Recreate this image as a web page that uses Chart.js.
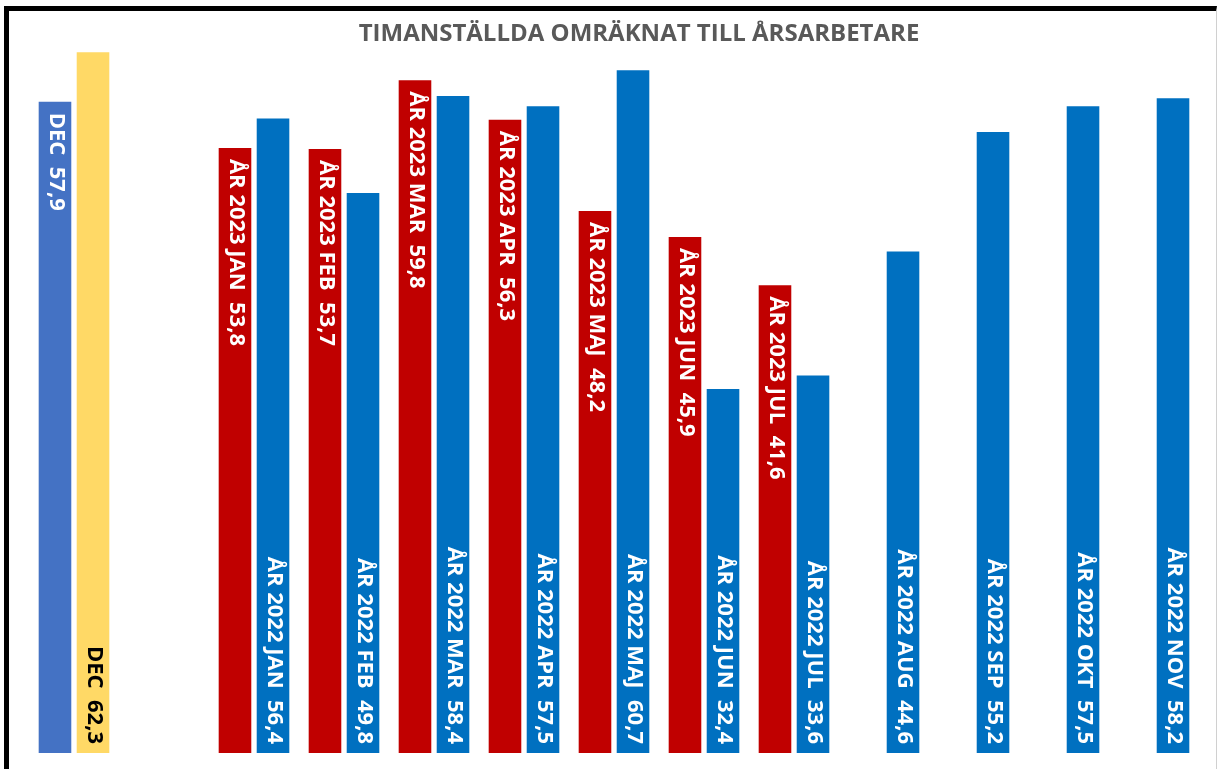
<!DOCTYPE html>
<html>
<head>
<meta charset="utf-8">
<script src="https://cdn.jsdelivr.net/npm/chart.js@4/dist/chart.umd.min.js"></script>
<style>
  html, body { margin: 0; padding: 0; background: #fff; }
  #frame {
    position: absolute; left: 4px; top: 6px;
    width: 1213px; height: 763px;
    box-sizing: border-box;
    border-top: 5px solid #000;
    border-left: 5px solid #000;
    border-right: 1px solid #d0d0d0;
  }
</style>
</head>
<body>
<div id="frame"><canvas id="myChart"></canvas></div>
<script>
const categories = ["DEC", "", "JAN", "FEB", "MAR", "APR", "MAJ", "JUN", "JUL", "AUG", "SEP", "OKT", "NOV"];
const values2023 = [57.9, null, 53.8, 53.7, 59.8, 56.3, 48.2, 45.9, 41.6, null, null, null, null];
const values2022 = [62.3, null, 56.4, 49.8, 58.4, 57.5, 60.7, 32.4, 33.6, 44.6, 55.2, 57.5, 58.2];
const yearTags = ["2023", "2022"];

const fmt = (v) => v.toFixed(1).replace(".", ",");
const labelFor = (ds, i) => {
    const v = ds === 0 ? values2023[i] : values2022[i];
    if (i === 0) return "DEC  " + fmt(v);
    return "ÅR " + yearTags[ds] + " " + categories[i] + "  " + fmt(v);
};

// labels inside the bars, written top to bottom
const barLabels = {
    id: "barLabels",
    afterLayout(chart) {
        // title sits a little right of the plot centre in the original
        chart.titleBlock.left += 25;
        chart.titleBlock.right += 25;
    },
    afterDatasetsDraw(chart) {
        const ctx = chart.ctx;
        ctx.save();
        ctx.font = "bold 22px 'Open Sans'";
        ctx.textBaseline = "middle";
        chart.data.datasets.forEach((ds, di) => {
            const meta = chart.getDatasetMeta(di);
            meta.data.forEach((bar, i) => {
                if (ds.data[i] == null) return;
                ctx.save();
                ctx.fillStyle = di === 1 && i === 0 ? "#000" : "#fff";
                if (di === 0) {
                    ctx.translate(bar.x + 1, bar.y + 12);
                    ctx.rotate(Math.PI / 2);
                    ctx.textAlign = "left";
                } else {
                    ctx.translate(bar.x + 1, bar.base - 9);
                    ctx.rotate(Math.PI / 2);
                    ctx.textAlign = "right";
                }
                ctx.fillText(labelFor(di, i), 0, 0);
                ctx.restore();
            });
        });
        ctx.restore();
    }
};

new Chart(document.getElementById("myChart"), {
    type: "bar",
    data: {
        labels: categories,
        datasets: [
            {
                label: "2023",
                data: values2023,
                backgroundColor: values2023.map((v, i) => i === 0 ? "#4472C4" : "#C00000"),
                borderColor: "rgba(255,255,255,0.45)",
                borderWidth: 1,
                categoryPercentage: 0.845,
                barPercentage: 0.91
            },
            {
                label: "2022",
                data: values2022,
                backgroundColor: values2022.map((v, i) => i === 0 ? "#FFD966" : "#0070C0"),
                borderColor: "rgba(255,255,255,0.45)",
                borderWidth: 1,
                categoryPercentage: 0.845,
                barPercentage: 0.91
            }
        ]
    },
    options: {
        responsive: true,
        maintainAspectRatio: false,
        animation: false,
        layout: { padding: { left: 20, right: 17, top: 0, bottom: 16 } },
        scales: {
            x: { display: false },
            y: { display: false, min: 0, max: 62.4 }
        },
        plugins: {
            legend: { display: false },
            tooltip: { enabled: false },
            title: {
                display: true,
                text: "TIMANSTÄLLDA OMRÄKNAT TILL ÅRSARBETARE",
                color: "#595959",
                font: { size: 24, weight: "bold", family: "'Open Sans'" },
                padding: { top: 9, bottom: 1.2 }
            }
        }
    },
    plugins: [barLabels]
});
</script>
</body>
</html>
